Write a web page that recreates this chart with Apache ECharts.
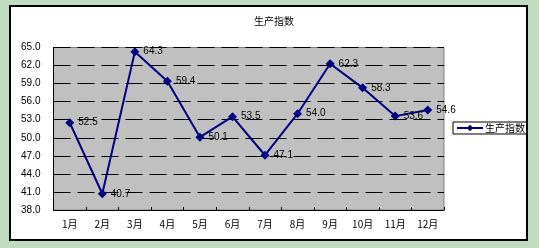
<!DOCTYPE html>
<html>
<head>
<meta charset="utf-8">
<script src="https://cdn.jsdelivr.net/npm/echarts@6/dist/echarts.min.js"></script>
<style>
html,body{margin:0;padding:0;background:#c0dcc0;}
#c{width:539px;height:248px;}
</style>
</head>
<body>
<div id="c"></div>
<script>
const categories = ['1月','2月','3月','4月','5月','6月','7月','8月','9月','10月','11月','12月'];
const seriesName = '生产指数';
const values = [52.5, 40.7, 64.3, 59.4, 50.1, 53.5, 47.1, 54.0, 62.3, 58.3, 53.6, 54.6];
const yTicks = [38, 41, 44, 47, 50, 53, 56, 59, 62, 65];
const titleText = '生产指数';

const chart = echarts.init(document.getElementById('c'), null, {renderer: 'canvas'});
const numFont = '"Liberation Sans", Arial, sans-serif';
const cjkFont = '"Noto Sans CJK SC", sans-serif';
chart.setOption({
  animation: false,
  backgroundColor: '#c0dcc0',
  graphic: [{
    type: 'rect', z: -10,
    shape: {x: 10, y: 6, width: 517, height: 234},
    style: {fill: '#ffffff', stroke: '#000000', lineWidth: 2}
  }],
  title: {
    text: titleText, left: 269, textAlign: 'center', top: 11,
    textStyle: {fontSize: 10, fontWeight: 'normal', color: '#000', fontFamily: cjkFont}
  },
  legend: {
    data: [seriesName], left: 453, top: 122, orient: 'vertical',
    borderColor: '#000', borderWidth: 1, padding: [1, 2, 1, 3],
    itemWidth: 26, itemHeight: 8, itemGap: 0,
    textStyle: {fontSize: 10, color: '#000', fontFamily: cjkFont, padding: [0,0,0,-3]}
  },
  grid: {
    left: 53.5, top: 47.5, right: 95, bottom: 38,
    show: true, backgroundColor: '#c0c0c0', borderColor: '#808080', borderWidth: 1,
    containLabel: false
  },
  xAxis: {
    type: 'category', data: categories, boundaryGap: true,
    axisLine: {lineStyle: {color: '#000', width: 1}},
    axisTick: {show: true, inside: true, length: 3, lineStyle: {color: '#000'}},
    axisLabel: {color: '#000', fontSize: 10, margin: 9, fontFamily: cjkFont},
    splitLine: {show: false}
  },
  yAxis: {
    type: 'value', min: 38, max: 65,
    axisLine: {show: true, lineStyle: {color: '#000', width: 1}},
    axisTick: {show: false, customValues: yTicks},
    axisLabel: {customValues: yTicks, color: '#000', fontSize: 10, margin: 13, fontFamily: numFont,
      formatter: v => v.toFixed(1)},
    splitLine: {show: true, customValues: yTicks.slice(1, -1), lineStyle: {color: '#000', type: [17, 7], width: 1}}
  },
  series: [{
    name: seriesName, type: 'line', data: values,
    symbol: 'diamond', symbolSize: 9,
    lineStyle: {color: '#000080', width: 2},
    itemStyle: {color: '#000080'},
    label: {show: true, position: 'right', distance: 4, fontSize: 10, color: '#000', fontFamily: numFont,
      formatter: p => p.value.toFixed(1)}
  }]
});
</script>
</body>
</html>
